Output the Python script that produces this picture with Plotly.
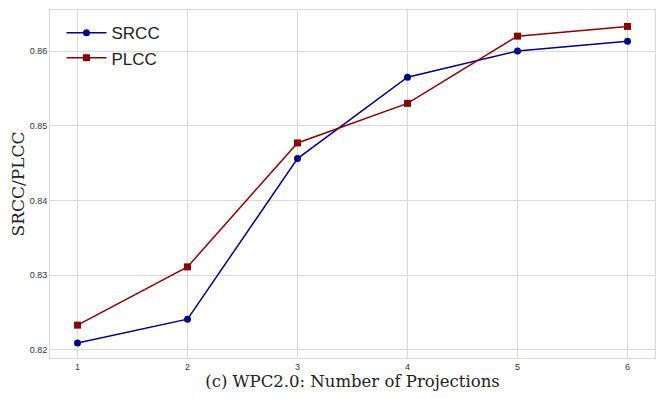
import plotly.graph_objects as go

# Number of projections vs. SRCC / PLCC on WPC2.0
projections = [1, 2, 3, 4, 5, 6]
srcc = [0.8209, 0.8241, 0.8456, 0.8565, 0.8600, 0.8613]
plcc = [0.8233, 0.8311, 0.8477, 0.8530, 0.8620, 0.8633]

fig = go.Figure()
fig.add_trace(go.Scatter(
    x=projections, y=srcc, name='SRCC', mode='lines+markers',
    line=dict(color='#00008B', width=1.5),
    marker=dict(symbol='circle', size=7, color='#00008B')
))
fig.add_trace(go.Scatter(
    x=projections, y=plcc, name='PLCC', mode='lines+markers',
    line=dict(color='#8B0000', width=1.5),
    marker=dict(symbol='square', size=7, color='#8B0000')
))

axis_style = dict(
    showgrid=True, gridcolor='#d9d9d9', gridwidth=1,
    showline=True, linecolor='#d9d9d9', linewidth=1, mirror=True,
    zeroline=False, ticks='', ticklen=0, automargin=False,
    tickfont=dict(family='Liberation Sans, Arial', size=9, color='#333333'),
)

# page body adds an 8px offset, so the figure is a bit smaller than the window
fig.update_layout(
    width=656, height=391,
    margin=dict(l=42, r=9, t=2, b=41),
    paper_bgcolor='white', plot_bgcolor='white',
    showlegend=True,
    legend=dict(x=0.019, y=0.985, xanchor='left', yanchor='top',
                bgcolor='rgba(255,255,255,0)',
                font=dict(family='Liberation Sans, Arial', size=17, color='#222222'),
                tracegroupgap=0, itemwidth=40),
    xaxis=dict(axis_style, range=[0.75, 6.25], tickvals=projections,
               title=dict(text='(c) WPC2.0: Number of Projections', standoff=4,
                          font=dict(family='DejaVu Serif', size=16.5, color='#222222'))),
    yaxis=dict(axis_style, range=[0.8189, 0.8655],
               tickvals=[0.82, 0.83, 0.84, 0.85, 0.86],
               ticktext=['0.82', '0.83', '0.84', '0.85', '0.86'],
               title=dict(text='SRCC/PLCC', standoff=6,
                          font=dict(family='DejaVu Serif', size=17, color='#222222'))),
)

fig.write_html("out.html")
